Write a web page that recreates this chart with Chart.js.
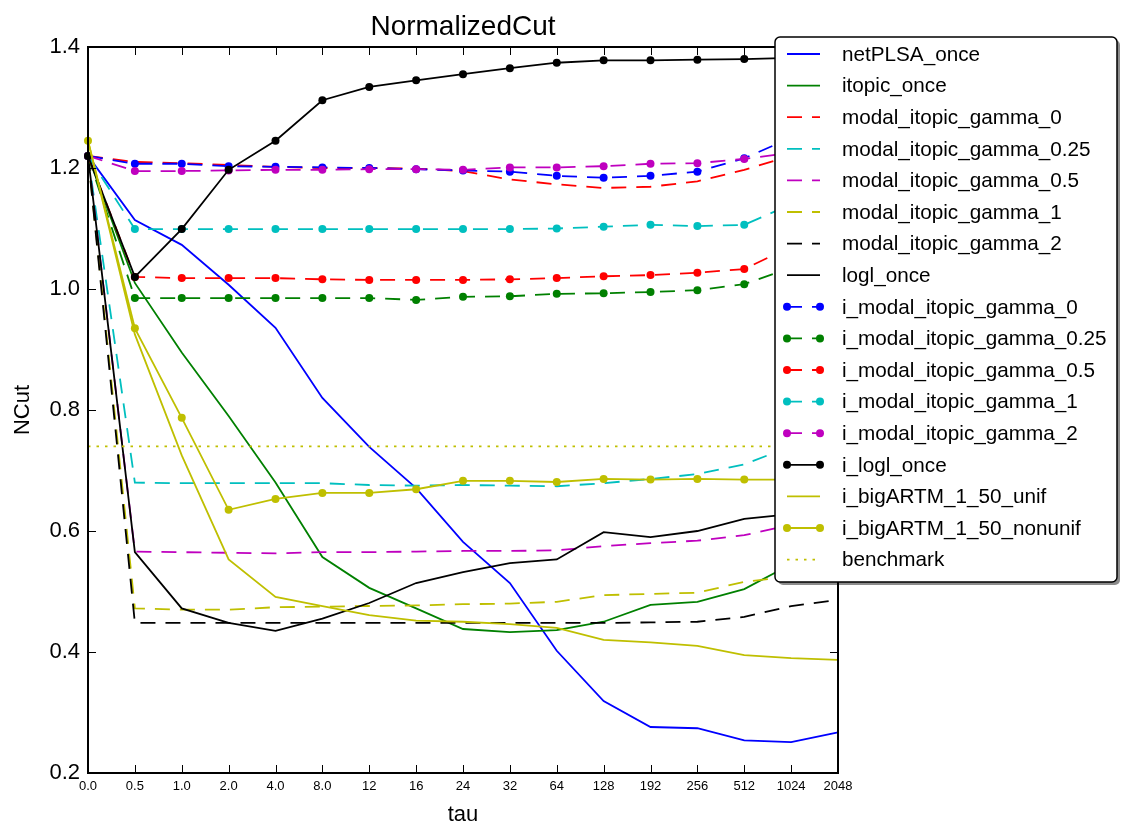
<!DOCTYPE html>
<html>
<head>
<meta charset="utf-8">
<script src="https://cdn.jsdelivr.net/npm/chart.js@4"></script>
<style>
  body { margin: 0; background: #fff; }
</style>
</head>
<body>
<canvas id="chart" width="1121" height="830"></canvas>
<script>
let taus = ['0.0', '0.5', '1.0', '2.0', '4.0', '8.0', '12', '16', '24', '32', '64', '128', '192', '256', '512', '1024', '2048'];
let yTicks = [0.2, 0.4, 0.6, 0.8, 1.0, 1.2, 1.4];

let netPLSA_once = [1.22, 1.114, 1.073, 1.007, 0.936, 0.82, 0.739, 0.671, 0.582, 0.514, 0.402, 0.319, 0.276, 0.274, 0.254, 0.251, 0.267];
let itopic_once = [1.22, 1.01, 0.895, 0.79, 0.68, 0.557, 0.506, 0.472, 0.438, 0.433, 0.436, 0.45, 0.478, 0.483, 0.504, 0.545, 0.58];
let modal_gamma_0 = [1.22, 1.21, 1.208, 1.205, 1.202, 1.2, 1.2, 1.199, 1.195, 1.181, 1.173, 1.167, 1.169, 1.178, 1.197, 1.22, 1.24];
let modal_gamma_025 = [1.22, 0.68, 0.679, 0.679, 0.679, 0.679, 0.676, 0.675, 0.676, 0.675, 0.674, 0.679, 0.686, 0.694, 0.71, 0.74, 0.77];
let modal_gamma_05 = [1.22, 0.566, 0.565, 0.564, 0.563, 0.565, 0.565, 0.566, 0.567, 0.567, 0.568, 0.575, 0.58, 0.584, 0.593, 0.61, 0.63];
let modal_gamma_1 = [1.22, 0.472, 0.47, 0.47, 0.474, 0.475, 0.476, 0.477, 0.479, 0.48, 0.483, 0.494, 0.496, 0.498, 0.516, 0.525, 0.54];
let modal_gamma_2 = [1.22, 0.448, 0.448, 0.448, 0.448, 0.448, 0.448, 0.448, 0.448, 0.448, 0.448, 0.448, 0.449, 0.45, 0.458, 0.476, 0.486];
let logl_once = [1.22, 0.565, 0.472, 0.448, 0.435, 0.455, 0.481, 0.514, 0.532, 0.547, 0.553, 0.598, 0.59, 0.6, 0.62, 0.628, 0.635];
let i_gamma_0 = [1.22, 1.207, 1.207, 1.203, 1.202, 1.201, 1.2, 1.198, 1.196, 1.194, 1.187, 1.184, 1.187, 1.194, 1.216, 1.25, 1.27];
let i_gamma_025 = [1.22, 0.985, 0.985, 0.985, 0.985, 0.985, 0.985, 0.982, 0.987, 0.988, 0.992, 0.993, 0.995, 0.998, 1.008, 1.035, 1.055];
let i_gamma_05 = [1.22, 1.02, 1.018, 1.018, 1.018, 1.016, 1.015, 1.015, 1.015, 1.016, 1.018, 1.021, 1.023, 1.027, 1.033, 1.07, 1.09];
let i_gamma_1 = [1.22, 1.099, 1.099, 1.099, 1.099, 1.099, 1.099, 1.099, 1.099, 1.099, 1.1, 1.103, 1.106, 1.104, 1.106, 1.14, 1.16];
let i_gamma_2 = [1.22, 1.195, 1.195, 1.196, 1.197, 1.197, 1.198, 1.198, 1.197, 1.201, 1.201, 1.203, 1.207, 1.208, 1.215, 1.225, 1.23];
let i_logl_once = [1.22, 1.02, 1.099, 1.197, 1.245, 1.312, 1.334, 1.345, 1.355, 1.365, 1.374, 1.378, 1.378, 1.379, 1.38, 1.382, 1.383];
let bigARTM_unif = [1.245, 0.925, 0.725, 0.553, 0.491, 0.476, 0.461, 0.452, 0.45, 0.446, 0.44, 0.42, 0.416, 0.41, 0.395, 0.39, 0.387];
let bigARTM_nonunif = [1.245, 0.935, 0.787, 0.635, 0.653, 0.663, 0.663, 0.669, 0.683, 0.683, 0.681, 0.686, 0.685, 0.686, 0.685, 0.685, 0.685];
let benchmark = [0.74, 0.74, 0.74, 0.74, 0.74, 0.74, 0.74, 0.74, 0.74, 0.74, 0.74, 0.74, 0.74, 0.74, 0.74, 0.74, 0.74];

let font = "'Liberation Sans', Arial, sans-serif";
let dashed = [15, 10];
let dotted = [2.5, 6];
let blue = '#0000ff', green = '#008000', red = '#ff0000', cyan = '#00bfbf',
    magenta = '#bf00bf', yellow = '#bfbf00', black = '#000000';

let series = [
    { label: 'netPLSA_once', data: netPLSA_once, color: blue, dash: [], marker: false },
    { label: 'itopic_once', data: itopic_once, color: green, dash: [], marker: false },
    { label: 'modal_itopic_gamma_0', data: modal_gamma_0, color: red, dash: dashed, marker: false },
    { label: 'modal_itopic_gamma_0.25', data: modal_gamma_025, color: cyan, dash: dashed, marker: false },
    { label: 'modal_itopic_gamma_0.5', data: modal_gamma_05, color: magenta, dash: dashed, marker: false },
    { label: 'modal_itopic_gamma_1', data: modal_gamma_1, color: yellow, dash: dashed, marker: false },
    { label: 'modal_itopic_gamma_2', data: modal_gamma_2, color: black, dash: dashed, marker: false },
    { label: 'logl_once', data: logl_once, color: black, dash: [], marker: false },
    { label: 'i_modal_itopic_gamma_0', data: i_gamma_0, color: blue, dash: dashed, marker: true },
    { label: 'i_modal_itopic_gamma_0.25', data: i_gamma_025, color: green, dash: dashed, marker: true },
    { label: 'i_modal_itopic_gamma_0.5', data: i_gamma_05, color: red, dash: dashed, marker: true },
    { label: 'i_modal_itopic_gamma_1', data: i_gamma_1, color: cyan, dash: dashed, marker: true },
    { label: 'i_modal_itopic_gamma_2', data: i_gamma_2, color: magenta, dash: dashed, marker: true },
    { label: 'i_logl_once', data: i_logl_once, color: black, dash: [], marker: true },
    { label: 'i_bigARTM_1_50_unif', data: bigARTM_unif, color: yellow, dash: [], marker: false },
    { label: 'i_bigARTM_1_50_nonunif', data: bigARTM_nonunif, color: yellow, dash: [], marker: true },
    { label: 'benchmark', data: benchmark, color: yellow, dash: dotted, marker: false }
];

let datasets = series.map((s, i) => ({
    label: s.label,
    data: s.data,
    borderColor: s.color,
    backgroundColor: s.color,
    borderWidth: 1.8,
    borderDash: s.dash,
    pointRadius: s.marker ? 4 : 0,
    pointBackgroundColor: s.color,
    pointBorderWidth: 0,
    tension: 0,
    fill: false,
    order: series.length - i // matplotlib draws later lines on top
}));

// frame, inward ticks, title, axis labels and the legend box
let decorations = {
    id: 'decorations',
    afterDatasetsDraw(chart) {
        let ctx = chart.ctx, a = chart.chartArea, x = chart.scales.x, y = chart.scales.y;
        ctx.save();
        ctx.strokeStyle = '#000';
        ctx.lineWidth = 1;
        taus.forEach((t, i) => {
            let px = Math.round(x.getPixelForValue(i)) + 0.5;
            ctx.beginPath();
            ctx.moveTo(px, a.bottom); ctx.lineTo(px, a.bottom - 8);
            ctx.moveTo(px, a.top); ctx.lineTo(px, a.top + 8);
            ctx.stroke();
        });
        yTicks.forEach(v => {
            let py = Math.round(y.getPixelForValue(v)) + 0.5;
            ctx.beginPath();
            ctx.moveTo(a.left, py); ctx.lineTo(a.left + 8, py);
            ctx.moveTo(a.right, py); ctx.lineTo(a.right - 8, py);
            ctx.stroke();
        });
        ctx.lineWidth = 2;
        ctx.strokeRect(a.left, a.top, a.right - a.left, a.bottom - a.top);
        ctx.restore();
    },
    afterDraw(chart) {
        let ctx = chart.ctx, a = chart.chartArea;
        let cx = (a.left + a.right) / 2;
        ctx.save();
        ctx.fillStyle = '#000';
        ctx.textAlign = 'center';
        ctx.textBaseline = 'middle';
        ctx.font = '28px ' + font;
        ctx.fillText('NormalizedCut', cx, 27);
        ctx.font = '22px ' + font;
        ctx.fillText('tau', cx, 815);
        ctx.translate(23, (a.top + a.bottom) / 2);
        ctx.rotate(-Math.PI / 2);
        ctx.fillText('NCut', 0, 0);
        ctx.restore();

        // legend
        let lx = 775, ly = 37, lw = 342, lh = 545;
        ctx.save();
        ctx.fillStyle = 'rgba(0,0,0,0.45)';
        ctx.beginPath();
        ctx.roundRect(lx + 3, ly + 3, lw, lh, 5);
        ctx.fill();
        ctx.fillStyle = '#fff';
        ctx.strokeStyle = '#000';
        ctx.lineWidth = 1.5;
        ctx.beginPath();
        ctx.roundRect(lx, ly, lw, lh, 5);
        ctx.fill();
        ctx.stroke();
        ctx.font = '20.7px ' + font;
        ctx.textAlign = 'left';
        ctx.textBaseline = 'middle';
        series.forEach((s, i) => {
            let ry = ly + 17 + i * 31.6;
            ctx.strokeStyle = s.color;
            ctx.lineWidth = 1.8;
            ctx.setLineDash(s.dash);
            ctx.beginPath();
            ctx.moveTo(787, ry);
            ctx.lineTo(820, ry);
            ctx.stroke();
            ctx.setLineDash([]);
            if (s.marker) {
                ctx.fillStyle = s.color;
                [787, 820].forEach(mx => {
                    ctx.beginPath();
                    ctx.arc(mx, ry, 4, 0, Math.PI * 2);
                    ctx.fill();
                });
            }
            ctx.fillStyle = '#000';
            ctx.fillText(s.label, 842, ry + 1);
        });
        ctx.restore();
    }
};

let ctx = document.getElementById('chart').getContext('2d');

let chart = new Chart(ctx, {
    type: 'line',
    data: { labels: taus, datasets: datasets },
    options: {
        responsive: false,
        animation: false,
        layout: { padding: { top: 47, right: 283, left: 0, bottom: 0 } },
        plugins: {
            legend: { display: false },
            title: { display: false },
            tooltip: { enabled: false }
        },
        scales: {
            x: {
                type: 'category',
                offset: false,
                grid: { display: false, drawTicks: false },
                border: { display: false },
                ticks: { color: '#000', font: { family: font, size: 13 }, padding: 6, maxRotation: 0, autoSkip: false },
                afterFit: s => { s.height = 57; }
            },
            y: {
                min: 0.2,
                max: 1.4,
                grid: { display: false, drawTicks: false },
                border: { display: false },
                ticks: { color: '#000', font: { family: font, size: 22 }, padding: 8, callback: v => v.toFixed(1) },
                afterBuildTicks: s => { s.ticks = yTicks.map(v => ({ value: v })); },
                afterFit: s => { s.width = 88; }
            }
        }
    },
    plugins: [decorations]
});
</script>
</body>
</html>
